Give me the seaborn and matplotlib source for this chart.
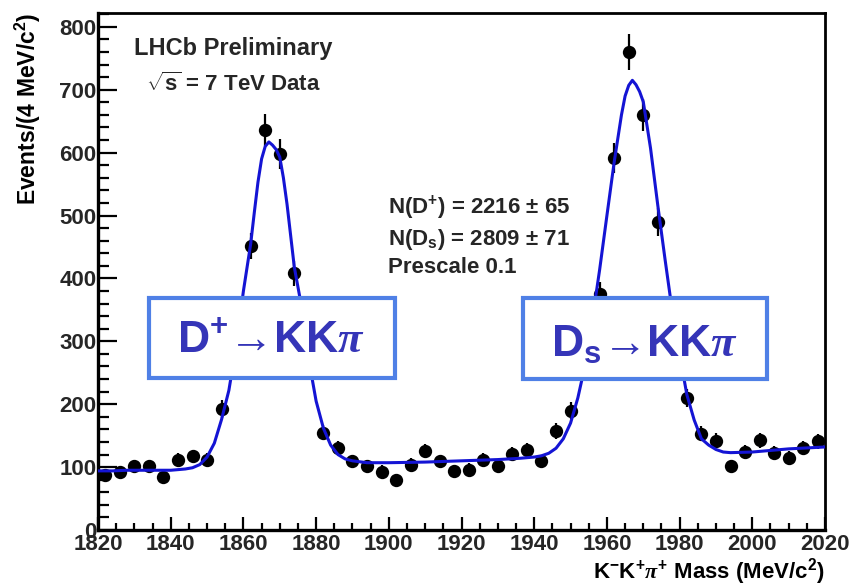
import matplotlib
matplotlib.use("Agg")
import matplotlib.pyplot as plt
import numpy as np
import seaborn as sns
from matplotlib.patches import Rectangle
from matplotlib.ticker import MultipleLocator

mass = np.arange(1822, 2020, 4)          # bin centres, 4 MeV bins
events = [87, 92, 102, 102, 85, 112, 117, 112, 192, 300,
          452, 636, 598, 408, 275, 155, 130, 110, 102, 93,
          80, 104, 125, 110, 94, 96, 112, 102, 121, 127,
          110, 157, 190, 260, 375, 592, 760, 660, 490, 340,
          210, 153, 142, 102, 124, 143, 122, 115, 130, 141]
errors = [9, 10, 10, 10, 9, 11, 11, 11, 14, 17,
          21, 25, 24, 20, 17, 12, 11, 10, 10, 10,
          9, 10, 11, 10, 10, 10, 11, 10, 11, 11,
          10, 13, 14, 16, 19, 24, 28, 26, 22, 18,
          14, 12, 12, 10, 11, 12, 11, 11, 11, 12]

fit_mass = [1820, 1824, 1828, 1832, 1836, 1840, 1842, 1844, 1846, 1848,
            1850, 1852, 1854, 1856, 1858, 1860, 1862, 1863, 1864, 1865,
            1866, 1867, 1868, 1869, 1870, 1871, 1872, 1873, 1874, 1876,
            1878, 1880, 1882, 1884, 1886, 1888, 1890, 1894, 1900, 1910,
            1920, 1930, 1936, 1940, 1942, 1944, 1946, 1948, 1950, 1952,
            1954, 1956, 1958, 1960, 1962, 1964, 1965, 1966, 1967, 1968,
            1969, 1970, 1972, 1974, 1976, 1978, 1980, 1982, 1984, 1986,
            1988, 1990, 1992, 1994, 2000, 2010, 2020]
fit_val = [94, 94, 95, 95, 95, 95, 96, 97, 99, 104,
           116, 138, 176, 222, 292, 380, 455, 505, 553, 590,
           610, 617, 612, 605, 593, 560, 518, 468, 418, 355,
           270, 205, 162, 135, 120, 113, 110, 107, 107, 108,
           110, 112, 114, 116, 118, 122, 130, 145, 170, 210,
           262, 335, 414, 500, 585, 660, 690, 707, 715, 708,
           697, 681, 607, 516, 430, 347, 279, 215, 175, 145,
           135, 128, 124, 123, 124, 129, 132]

yield_lines = [r"N(D$^{+}$) = 2216 ± 65",
               r"N(D$_{s}$) = 2809 ± 71",
               "Prescale 0.1"]
mode_labels = [r"D$^{+}$→KK$\mathit{\pi}$", r"D$_{s}$→KK$\mathit{\pi}$"]

# ── Style ──────────────────────────────────────────────────────────────────
sns.set_theme(style="white")
plt.rcParams["font.family"] = ["Liberation Sans", "DejaVu Sans"]
plt.rcParams["font.weight"] = "bold"
plt.rcParams["mathtext.fontset"] = "custom"
plt.rcParams["mathtext.rm"] = "Liberation Sans:bold"
plt.rcParams["mathtext.bf"] = "Liberation Sans:bold"
plt.rcParams["mathtext.sf"] = "Liberation Sans:bold"
plt.rcParams["mathtext.it"] = "Liberation Serif:bold:italic"
plt.rcParams["mathtext.default"] = "rm"

BOX_EDGE = "#4f80e6"
BOX_TEXT = "#3535b8"
FIT_BLUE = "#1414d4"

fig = plt.figure(figsize=(8.62, 5.87), dpi=100)
ax = fig.add_axes([0.1137, 0.0971, 0.8434, 0.8807])

# ── Data points + fit ──────────────────────────────────────────────────────
ax.errorbar(mass, events, yerr=errors, fmt="none", ecolor="black",
            elinewidth=1.6, capsize=0, zorder=3)
sns.scatterplot(x=mass, y=events, color="black", s=92, linewidth=0,
                zorder=4, ax=ax, legend=False)
sns.lineplot(x=fit_mass, y=fit_val, color=FIT_BLUE, linewidth=2.2,
             sort=False, estimator=None, zorder=5, ax=ax)

ax.set_xlim(1820, 2020)
ax.set_ylim(0, 822)

# ROOT-like axes
ax.xaxis.set_major_locator(MultipleLocator(20))
ax.xaxis.set_minor_locator(MultipleLocator(5))
ax.yaxis.set_major_locator(MultipleLocator(100))
ax.yaxis.set_minor_locator(MultipleLocator(20))
ax.tick_params(axis="x", which="major", direction="in", length=9.5, width=1.6,
               bottom=True, top=False, labelsize=16, pad=3, color="black")
ax.tick_params(axis="x", which="minor", direction="in", length=5, width=1.6,
               bottom=True, top=False, color="black")
ax.tick_params(axis="y", which="major", direction="in", length=14, width=1.6,
               left=True, right=False, labelsize=16, pad=1, color="black")
ax.tick_params(axis="y", which="minor", direction="in", length=8, width=1.6,
               left=True, right=False, color="black")
for lab in ax.get_xticklabels() + ax.get_yticklabels():
    lab.set_fontweight("bold")
for sp in ax.spines.values():
    sp.set_color("black")
    sp.set_linewidth(2)
ax.spines["left"].set_linewidth(2.4)
ax.spines["bottom"].set_linewidth(2.4)

ax.set_ylabel("Events/(4 MeV/c$^{2}$)", fontsize=16.5, fontweight="bold",
              loc="top", color="black")
ax.yaxis.set_label_coords(-0.076, 1.0)
ax.set_xlabel(r"K$^{-}$K$^{+}\mathit{\pi}^{+}$ Mass (MeV/c$^{2}$)", fontsize=16,
              fontweight="bold", loc="right", color="black")
ax.xaxis.set_label_coords(1.0, -0.050)

# ── Annotations ────────────────────────────────────────────────────────────
ax.text(0.186, 0.932, "LHCb Preliminary", transform=ax.transAxes,
        ha="center", va="center", fontsize=17, fontweight="bold")
ax.text(0.186, 0.863, r"$\sqrt{s}$ = 7 TeV Data", transform=ax.transAxes,
        ha="center", va="center", fontsize=16, fontweight="bold")
for line, yy in zip(yield_lines, [0.623, 0.561, 0.507]):
    ax.text(0.399, yy, line, transform=ax.transAxes, ha="left", va="center",
            fontsize=16, fontweight="bold")

# decay-mode boxes
for x0, y0, w, h in [(0.0702, 0.294, 0.3384, 0.1547),
                     (0.5846, 0.292, 0.3356, 0.157)]:
    ax.add_patch(Rectangle((x0, y0), w, h, transform=ax.transAxes,
                           facecolor="white", edgecolor=BOX_EDGE,
                           linewidth=3, zorder=6))
for label, xx, yy in zip(mode_labels, [0.238, 0.752], [0.342, 0.335]):
    ax.text(xx, yy, label, transform=ax.transAxes, ha="center",
            va="baseline", fontsize=32, color=BOX_TEXT, zorder=7)

fig.savefig("out.png", dpi=100, facecolor="white")
plt.close(fig)
